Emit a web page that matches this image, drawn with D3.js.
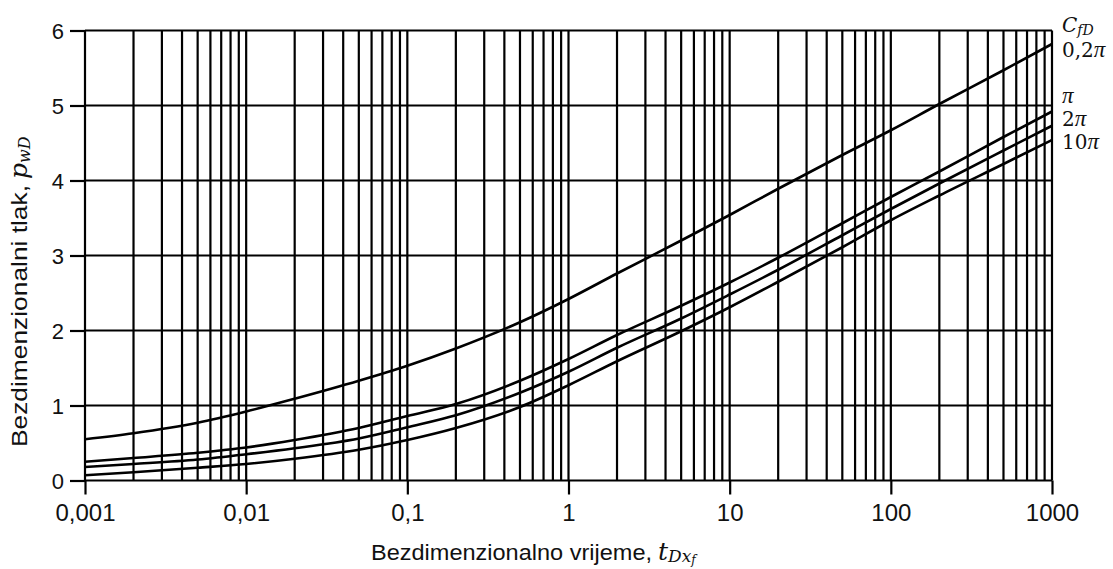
<!DOCTYPE html>
<html>
<head>
<meta charset="utf-8">
<script src="https://cdn.jsdelivr.net/npm/d3@7"></script>
<style>
  html, body { margin: 0; padding: 0; background: #fff; }
  svg { display: block; }
</style>
</head>
<body>
<svg id="chart" width="1113" height="569"></svg>
<script>
// ---- data ----
const tDx = [0.001, 0.002, 0.005, 0.01, 0.02, 0.05, 0.1, 0.2, 0.5, 1, 2, 5, 10, 20, 50, 100, 200, 500, 1000];
const pwd_02pi = [0.55, 0.63, 0.77, 0.92, 1.09, 1.33, 1.53, 1.76, 2.11, 2.42, 2.76, 3.20, 3.54, 3.89, 4.34, 4.67, 5.02, 5.47, 5.82];
const pwd_pi   = [0.25, 0.30, 0.37, 0.44, 0.54, 0.70, 0.86, 1.02, 1.33, 1.62, 1.94, 2.33, 2.64, 2.97, 3.43, 3.78, 4.12, 4.58, 4.92];
const pwd_2pi  = [0.18, 0.22, 0.28, 0.35, 0.43, 0.56, 0.71, 0.87, 1.17, 1.45, 1.77, 2.16, 2.48, 2.81, 3.27, 3.62, 3.96, 4.40, 4.73];
const pwd_10pi = [0.07, 0.11, 0.17, 0.22, 0.29, 0.41, 0.54, 0.70, 0.98, 1.27, 1.59, 1.99, 2.31, 2.65, 3.11, 3.47, 3.80, 4.22, 4.54];
const seriesPrefix = ["0,2", "", "2", "10"];   // labels: prefix + italic π
const xTickValues = [0.001, 0.01, 0.1, 1, 10, 100, 1000];
const xTickLabels = ["0,001", "0,01", "0,1", "1", "10", "100", "1000"];
const yTickValues = [0, 1, 2, 3, 4, 5, 6];

// ---- layout ----
const svg = d3.select("#chart");
const mLeft = 85, mRight = 1052, mTop = 30.5, mBottom = 480.5;

const x = d3.scaleLog().domain([0.001, 1000]).range([mLeft, mRight]);
const y = d3.scaleLinear().domain([0, 6]).range([mBottom, mTop]);

// vertical grid lines (1..9 per decade)
const minor = [];
for (let e = -3; e < 3; e++) for (let m = 1; m < 10; m++) minor.push(m * Math.pow(10, e));
minor.push(1000);

const g = svg.append("g");
g.selectAll("line.v").data(minor).join("line").attr("class", "v")
  .attr("x1", d => x(d)).attr("x2", d => x(d))
  .attr("y1", y(6)).attr("y2", y(0))
  .attr("stroke", "#000").attr("stroke-width", 2.2);

g.selectAll("line.h").data(yTickValues).join("line").attr("class", "h")
  .attr("x1", mLeft).attr("x2", mRight)
  .attr("y1", d => y(d)).attr("y2", d => y(d))
  .attr("stroke", "#000").attr("stroke-width", 2.2);

// axes
const xAxis = d3.axisBottom(x).tickValues(xTickValues)
  .tickFormat((d, i) => xTickLabels[i]).tickSize(14).tickPadding(9);
const yAxis = d3.axisLeft(y).tickValues(yTickValues)
  .tickFormat(d3.format("d")).tickSize(15).tickPadding(6);

const gx = svg.append("g").attr("transform", `translate(0,${mBottom})`).call(xAxis);
const gy = svg.append("g").attr("transform", `translate(${mLeft},0)`).call(yAxis);
[gx, gy].forEach(a => {
  a.select(".domain").remove();
  a.selectAll(".tick line").attr("stroke", "#000").attr("stroke-width", 2.2);
  a.selectAll(".tick text").attr("fill", "#111")
    .attr("font-family", "Liberation Sans, Arial, sans-serif");
});
gx.selectAll(".tick text").attr("font-size", 24);
gy.selectAll(".tick text").attr("font-size", 22).attr("dy", "0.36em");

// curves
const allSeries = [pwd_02pi, pwd_pi, pwd_2pi, pwd_10pi];
const line = d3.line().x((d, i) => x(tDx[i])).y(d => y(d)).curve(d3.curveMonotoneX);
svg.append("g").selectAll("path").data(allSeries).join("path")
  .attr("d", d => line(d))
  .attr("fill", "none").attr("stroke", "#000").attr("stroke-width", 2.6);

// right-side labels
const serif = "DejaVu Serif, Liberation Serif, serif";
const lab = svg.append("g").attr("font-family", serif).attr("font-size", 20).attr("fill", "#111");
const cfd = lab.append("text").attr("x", 1062).attr("y", 32);
cfd.append("tspan").attr("font-style", "italic").text("C");
cfd.append("tspan").attr("font-style", "italic").attr("font-size", 14).attr("dy", 3).text("fD");
const labelY = [57, 103, 126, 149];
const sl = lab.selectAll("text.s").data(seriesPrefix).join("text")
  .attr("class", "s")
  .attr("x", 1062).attr("y", (d, i) => labelY[i]);
sl.append("tspan").text(d => d);
sl.append("tspan").attr("font-family", "Liberation Serif, serif").attr("font-style", "italic")
  .attr("font-size", 23).text("π");

// x-axis title
const xt = svg.append("text").attr("x", 371).attr("y", 560)
  .attr("font-family", "Liberation Sans, Arial, sans-serif").attr("font-size", 22).attr("fill", "#111");
xt.append("tspan").attr("textLength", 281).attr("lengthAdjust", "spacingAndGlyphs").text("Bezdimenzionalno vrijeme,");
xt.append("tspan").attr("dx", 6).attr("font-family", serif).attr("font-style", "italic").attr("font-size", 25).text("t");
xt.append("tspan").attr("font-family", serif).attr("font-style", "italic").attr("font-size", 17).attr("dy", 2).text("Dx");
xt.append("tspan").attr("font-family", serif).attr("font-style", "italic").attr("font-size", 12).attr("dy", 2).text("f");

// y-axis title
const yt = svg.append("text").attr("transform", "translate(27,447) rotate(-90)")
  .attr("font-family", "Liberation Sans, Arial, sans-serif").attr("font-size", 22).attr("fill", "#111");
yt.append("tspan").attr("textLength", 262).attr("lengthAdjust", "spacingAndGlyphs").text("Bezdimenzionalni tlak,");
yt.append("tspan").attr("dx", 6).attr("font-family", serif).attr("font-style", "italic").attr("font-size", 25).text("p");
yt.append("tspan").attr("font-family", serif).attr("font-style", "italic").attr("font-size", 16).attr("dy", 3).text("wD");
</script>
</body>
</html>
